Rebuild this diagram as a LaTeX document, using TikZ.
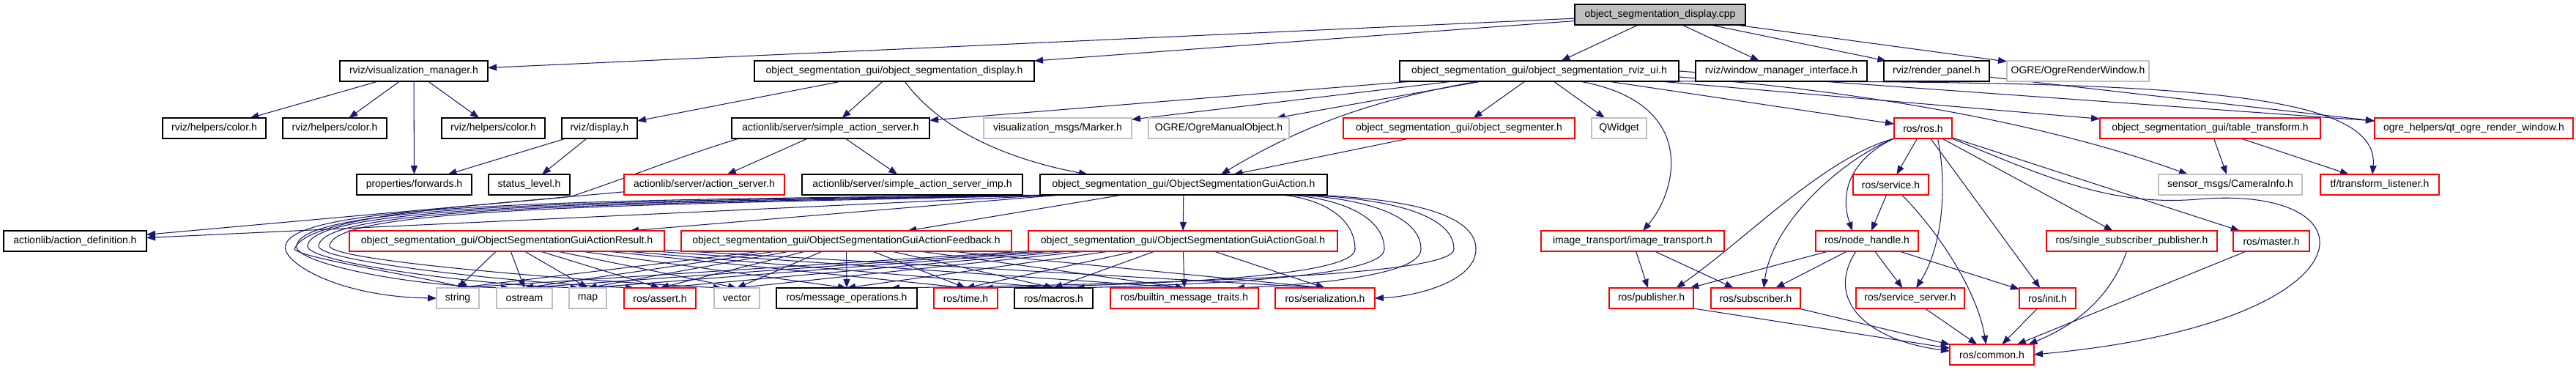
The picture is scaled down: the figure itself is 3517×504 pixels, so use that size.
\documentclass[tikz,border=0pt]{standalone}
\usepackage{fontspec}
\setmainfont{Liberation Sans}
\usetikzlibrary{arrows.meta}
\pgfdeclarelayer{back}
\pgfdeclarelayer{edges}
\pgfsetlayers{back,edges,main}
\definecolor{edgeblue}{HTML}{191970}
\definecolor{extgray}{HTML}{BFBFBF}
\definecolor{undocred}{HTML}{FF0000}
\tikzset{
  nbox/.style={rectangle, draw, fill=white, line width=1.1pt, minimum height=28pt, inner sep=0pt, outer sep=0pt, font=\fontsize{14}{16}\selectfont, text=black},
  docbox/.style={nbox, draw=black},
  undocbox/.style={nbox, draw=undocred},
  extbox/.style={nbox, draw=extgray},
  rootbox/.style={nbox, draw=black, fill=extgray},
  edge/.style={draw=edgeblue, line width=1.05pt, -{Triangle[length=12pt,width=9pt]}},
}
\begin{document}
\begin{tikzpicture}[x=1pt,y=-1pt]
\begin{pgfonlayer}{back}
\fill[white] (0,0) rectangle (3517,504);
\end{pgfonlayer}
\useasboundingbox (0,0) rectangle (3517,504);

% row 0
\node[rootbox, minimum width=233pt] (cpp) at (2266.5,20) {object\_segmentation\_display.cpp};
% row 1
\node[docbox, minimum width=202pt] (vm) at (565,97) {rviz/visualization\_manager.h};
\node[docbox, minimum width=382pt] (osd) at (1221,97) {object\_segmentation\_gui/object\_segmentation\_display.h};
\node[docbox, minimum width=381pt] (rvizui) at (2101.5,97) {object\_segmentation\_gui/object\_segmentation\_rviz\_ui.h};
\node[docbox, minimum width=234pt] (wmi) at (2432,97) {rviz/window\_manager\_interface.h};
\node[docbox, minimum width=144pt] (rp) at (2644,97) {rviz/render\_panel.h};
\node[extbox, minimum width=194pt] (orw) at (2837,97) {OGRE/OgreRenderWindow.h};
% row 2
\node[docbox, minimum width=141pt] (color1) at (292.5,175) {rviz/helpers/color.h};
\node[docbox, minimum width=142pt] (color2) at (457,175) {rviz/helpers/color.h};
\node[docbox, minimum width=141pt] (color3) at (673.5,175) {rviz/helpers/color.h};
\node[docbox, minimum width=103pt] (display) at (818.5,175) {rviz/display.h};
\node[docbox, minimum width=270pt] (sas) at (1134,175) {actionlib/server/simple\_action\_server.h};
\node[extbox, minimum width=202pt] (marker) at (1444,175) {visualization\_msgs/Marker.h};
\node[extbox, minimum width=192pt] (omo) at (1664,175) {OGRE/OgreManualObject.h};
\node[undocbox, minimum width=316pt] (segmenter) at (1992,175) {object\_segmentation\_gui/object\_segmenter.h};
\node[extbox, minimum width=75pt] (qwidget) at (2210.5,175) {QWidget};
\node[undocbox, minimum width=79pt] (ros) at (2625.5,175) {ros/ros.h};
\node[undocbox, minimum width=301pt] (tt) at (3017.5,175) {object\_segmentation\_gui/table\_transform.h};
\node[undocbox, minimum width=271pt] (qtogre) at (3377.5,175) {ogre\_helpers/qt\_ogre\_render\_window.h};
% row 3
\node[docbox, minimum width=157pt] (forwards) at (565.5,252) {properties/forwards.h};
\node[docbox, minimum width=111pt] (status) at (722.5,252) {status\_level.h};
\node[undocbox, minimum width=219pt] (as) at (961.5,252) {actionlib/server/action\_server.h};
\node[docbox, minimum width=301pt] (sasimp) at (1245.5,252) {actionlib/server/simple\_action\_server\_imp.h};
\node[docbox, minimum width=392pt] (guiaction) at (1616,252) {object\_segmentation\_gui/ObjectSegmentationGuiAction.h};
\node[undocbox, minimum width=103pt] (service) at (2581.5,252) {ros/service.h};
\node[extbox, minimum width=196pt] (camerainfo) at (3045,252) {sensor\_msgs/CameraInfo.h};
\node[undocbox, minimum width=162pt] (tfl) at (3249,252) {tf/transform\_listener.h};
% row 4
\node[docbox, minimum width=195pt] (actdef) at (102.5,329) {actionlib/action\_definition.h};
\node[undocbox, minimum width=430pt] (result) at (692,329) {object\_segmentation\_gui/ObjectSegmentationGuiActionResult.h};
\node[undocbox, minimum width=451pt] (feedback) at (1155.5,329) {object\_segmentation\_gui/ObjectSegmentationGuiActionFeedback.h};
\node[undocbox, minimum width=422pt] (goal) at (1615,329) {object\_segmentation\_gui/ObjectSegmentationGuiActionGoal.h};
\node[undocbox, minimum width=250pt] (imgtr) at (2229,329) {image\_transport/image\_transport.h};
\node[undocbox, minimum width=140pt] (nodehandle) at (2549,329) {ros/node\_handle.h};
\node[undocbox, minimum width=233pt] (ssp) at (2910.5,329) {ros/single\_subscriber\_publisher.h};
\node[undocbox, minimum width=104pt] (master) at (3101,329) {ros/master.h};
% row 5
\node[extbox, minimum width=58pt] (string) at (625,407) {string};
\node[extbox, minimum width=76pt] (ostream) at (716,407) {ostream};
\node[extbox, minimum width=51pt] (map) at (802.5,407) {map};
\node[undocbox, minimum width=98pt] (assert) at (901,407) {ros/assert.h};
\node[extbox, minimum width=62pt] (vector) at (1006,407) {vector};
\node[docbox, minimum width=192pt] (msgops) at (1156,407) {ros/message\_operations.h};
\node[undocbox, minimum width=87pt] (time) at (1318.5,407) {ros/time.h};
\node[docbox, minimum width=107pt] (macros) at (1438.5,407) {ros/macros.h};
\node[undocbox, minimum width=202pt] (builtin) at (1617,407) {ros/builtin\_message\_traits.h};
\node[undocbox, minimum width=136pt] (serialization) at (1809,407) {ros/serialization.h};
\node[undocbox, minimum width=115pt] (publisher) at (2254.5,407) {ros/publisher.h};
\node[undocbox, minimum width=122pt] (subscriber) at (2397,407) {ros/subscriber.h};
\node[undocbox, minimum width=148pt] (serviceserver) at (2608,407) {ros/service\_server.h};
\node[undocbox, minimum width=77pt] (init) at (2795.5,407) {ros/init.h};
% row 6
\node[undocbox, minimum width=115pt] (common) at (2719.5,484) {ros/common.h};

\begin{pgfonlayer}{edges}
% root
\foreach \tgt in {vm,osd,rvizui,wmi,rp,orw} \draw[edge] (cpp) -- (\tgt);
% visualization manager
\foreach \tgt in {color1,color2,color3,forwards} \draw[edge] (vm) -- (\tgt);
\draw[edge] (display) -- (forwards);
\draw[edge] (display) -- (status);
% display.h
\draw[edge] (osd) -- (display);
\draw[edge] (osd) -- (sas);
\draw[edge] ([xshift=14pt]osd.south) .. controls (1290,185) and (1390,220) .. ([xshift=-131pt]guiaction.north);
% rviz ui
\foreach \tgt in {sas,marker,omo,segmenter,qwidget,ros,tt} \draw[edge] (rvizui) -- (\tgt);
\draw[edge] ([xshift=-83pt]rvizui.south) .. controls (1880,135) and (1780,170) .. ([xshift=51pt]guiaction.north);
\draw[edge] ([xshift=55pt]rvizui.south) .. controls (2320,140) and (2290,260) .. ([xshift=14pt]imgtr.north);
\draw[edge] ([yshift=-8pt]rvizui.east) .. controls (2550,125) and (2800,170) .. ([xshift=-58pt]camerainfo.north);
\draw[edge] (rvizui.east) -- ([yshift=-4pt]qtogre.north west);
\draw[edge] ([xshift=-20pt]rvizui.south east) .. controls (2950,110) and (3250,120) .. ([xshift=-10pt]tfl.north);
\draw[edge] (rp) -- ([yshift=-4pt]qtogre.north west);
\draw[edge] (tt) -- (camerainfo);
\draw[edge] (tt) -- (tfl);
\draw[edge] (segmenter) -- (guiaction);
% simple action server
\draw[edge] (sas) -- (as);
\draw[edge] (sas) -- (sasimp);
\draw[edge] ([xshift=-125pt]sas.south) .. controls (930,213) and (850,245) .. (780,268) .. controls (700,278) and (420,290) .. (402,340) .. controls (410,352) and (560,375) .. ([xshift=12pt]string.north);
\draw[edge] (as) -- (actdef);
% gui action
\draw[edge] ([xshift=30pt]guiaction.south west) -- (actdef);
\draw[edge] (guiaction) -- (result);
\draw[edge] (guiaction) -- (feedback);
\draw[edge] (guiaction) -- (goal);
% left loops
\draw[edge] ([xshift=25pt]guiaction.south west) .. controls (850,272) and (400,275) .. (390,335) .. controls (383,357) and (460,405) .. (string.west);
\draw[edge] ([xshift=30pt]guiaction.south west) .. controls (850,274) and (415,277) .. (405,335) .. controls (398,357) and (546,390) .. ([xshift=-20pt]ostream.north);
\draw[edge] ([xshift=35pt]guiaction.south west) .. controls (850,276) and (430,279) .. (420,335) .. controls (413,357) and (640,388) .. ([xshift=-12pt]map.north);
\draw[edge] ([xshift=40pt]guiaction.south west) .. controls (850,278) and (445,281) .. (435,335) .. controls (428,357) and (716,387) .. ([xshift=-35pt]assert.north);
\draw[edge] ([xshift=45pt]guiaction.south west) .. controls (850,280) and (460,283) .. (450,335) .. controls (443,357) and (836,386) .. ([xshift=-20pt]vector.north);
% right loops
\draw[edge] ([xshift=174pt]guiaction.south) .. controls (1950,272) and (2015,300) .. (2015,340) .. controls (2015,385) and (1930,405) .. (serialization.east);
\draw[edge] ([xshift=164pt]guiaction.south) .. controls (1920,272) and (1985,300) .. (1985,340) .. controls (1985,372) and (1700,386) .. ([xshift=60pt]msgops.north);
\draw[edge] ([xshift=154pt]guiaction.south) .. controls (1880,272) and (1940,300) .. (1940,340) .. controls (1940,375) and (1800,388) .. ([xshift=70pt]builtin.north);
\draw[edge] ([xshift=144pt]guiaction.south) .. controls (1840,272) and (1890,300) .. (1890,340) .. controls (1890,378) and (1650,388) .. ([xshift=30pt]macros.north);
\draw[edge] ([xshift=134pt]guiaction.south) .. controls (1810,272) and (1850,300) .. (1850,340) .. controls (1850,380) and (1550,389) .. ([xshift=25pt]time.north);
% message headers
\foreach \src in {result,feedback,goal}
  \foreach \tgt in {string,ostream,map,assert,vector,msgops,time,macros,builtin,serialization}
    \draw[edge] (\src) -- (\tgt.north);
% ros
\draw[edge] (ros) -- (service);
\draw[edge] (ros.south west) .. controls (2530,215) and (2510,260) .. ([xshift=-20pt]nodehandle.north);
\draw[edge] (ros.south west) .. controls (2490,215) and (2380,330) .. ([xshift=34pt]publisher.north);
\draw[edge] (ros.south west) .. controls (2520,215) and (2420,300) .. ([xshift=11pt]subscriber.north);
\draw[edge] ([xshift=20pt]ros.south) .. controls (2660,260) and (2650,340) .. ([xshift=8pt]serviceserver.north);
\draw[edge] (ros) -- (init);
\draw[edge] (ros) -- (ssp);
\draw[edge] (ros) -- (master);
\draw[edge] (ros.south east) .. controls (2790,240) and (2880,282) .. (3000,272) .. controls (3250,250) and (3250,440) .. (common.east);
\draw[edge] (service) -- (nodehandle);
\draw[edge] ([xshift=15pt]service.south) .. controls (2650,320) and (2700,400) .. ([xshift=-8pt]common.north);
\draw[edge] (nodehandle) -- (publisher);
\draw[edge] (nodehandle) -- (subscriber);
\draw[edge] (nodehandle) -- (serviceserver);
\draw[edge] (nodehandle) -- (init);
\draw[edge] ([xshift=-15pt]nodehandle.south) .. controls (2490,410) and (2550,465) .. ([yshift=5pt]common.west);
\draw[edge] (imgtr) -- (publisher);
\draw[edge] (imgtr) -- (subscriber);
\draw[edge] (publisher.south east) -- (common);
\draw[edge] (subscriber) -- (common);
\draw[edge] (serviceserver) -- (common);
\draw[edge] (init) -- (common);
\draw[edge] (master) -- (common);
\draw[edge] ([xshift=-7pt]ssp.south) .. controls (2880,410) and (2830,445) .. ([xshift=50pt]common.north);
\end{pgfonlayer}
\end{tikzpicture}
\end{document}
